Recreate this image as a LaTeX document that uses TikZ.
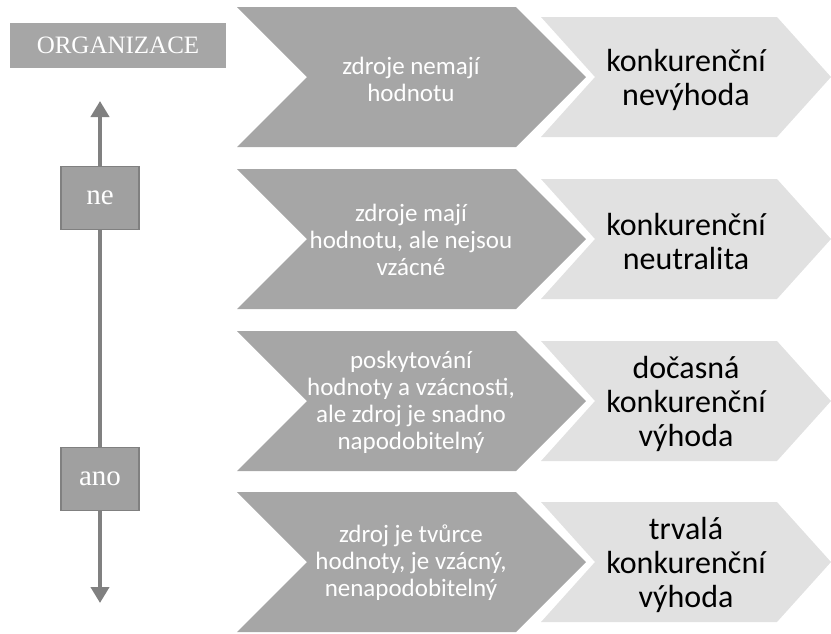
\documentclass[tikz,border=0pt]{standalone}
\usepackage{fontspec}
\setmainfont{Carlito}
\newfontfamily\boxfont{Liberation Serif}
\usepackage{xcolor}
\usetikzlibrary{arrows.meta}
\definecolor{chevdark}{RGB}{166,166,166}
\definecolor{chevlight}{RGB}{225,225,225}
\definecolor{boxgray}{RGB}{160,160,160}
\definecolor{linegray}{RGB}{128,128,128}
% one row of the two chevrons, #1 = top edge
\newcommand{\chevronrow}[1]{%
  \fill[chevdark] (237,#1) -- (516,#1) -- (586,#1+70) -- (516,#1+140)
    -- (237,#1+140) -- (307,#1+70) -- cycle;
  \fill[chevlight] (541,#1+10) -- (777,#1+10) -- (831,#1+70) -- (777,#1+130)
    -- (541,#1+130) -- (595,#1+70) -- cycle;}

\begin{document}
\begin{tikzpicture}[
    x=1pt, y=-1pt,
    cause/.style={align=center, text=white, inner sep=0pt,
                  font=\fontsize{25}{27}\selectfont},
    effect/.style={align=center, text=black, inner sep=0pt,
                   font=\fontsize{32}{34}\selectfont},
    title/.style={fill=chevdark, text=white, minimum width=216pt,
                  minimum height=45pt, inner sep=0pt,
                  font=\boxfont\fontsize{25}{27}\selectfont},
    answer/.style={fill=boxgray, draw=linegray, line width=1.5pt,
                   minimum width=78pt, minimum height=63pt, inner sep=0pt,
                   font=\boxfont\fontsize{29}{31}\selectfont, text=white},
    vline/.style={-{Triangle[length=16pt,width=18pt]}, line width=4.5pt,
                  linegray},
  ]
  \useasboundingbox (0,0) rectangle (831,633);

  %% ---- chevrons --------------------------------------------------------
  \chevronrow{7}
  \chevronrow{169}
  \chevronrow{331}
  \chevronrow{492}

  \node[cause]  (c1) at (411,79)  {zdroje nemají\\ hodnotu};
  \node[effect] (e1) at (686,80)  {konkurenční\\ nevýhoda};
  \node[cause]  (c2) at (411,240) {zdroje mají\\ hodnotu, ale nejsou\\ vzácné};
  \node[effect] (e2) at (686,242) {konkurenční\\ neutralita};
  \node[cause]  (c3) at (411,402) {poskytování\\ hodnoty a vzácnosti,\\
                                    ale zdroj je snadno\\ napodobitelný};
  \node[effect] (e3) at (686,404) {dočasná\\ konkurenční\\ výhoda};
  \node[cause]  (c4) at (411,563) {zdroj je tvůrce\\ hodnoty, je vzácný,\\
                                    nenapodobitelný};
  \node[effect] (e4) at (686,565) {trvalá\\ konkurenční\\ výhoda};

  %% ---- left axis -------------------------------------------------------
  \node[title]  (org) at (118,45.5) {ORGANIZACE};
  \node[answer] (ne)  at (100,198)  {ne};
  \node[answer] (ano) at (100,479)  {ano};
  \coordinate (up)   at (100,101);
  \coordinate (down) at (100,603);

  \draw[vline] (ne.north) -- (up);
  \draw[line width=4.5pt, linegray] (ne.south) -- (ano.north);
  \draw[vline] (ano.south) -- (down);

\end{tikzpicture}
\end{document}
